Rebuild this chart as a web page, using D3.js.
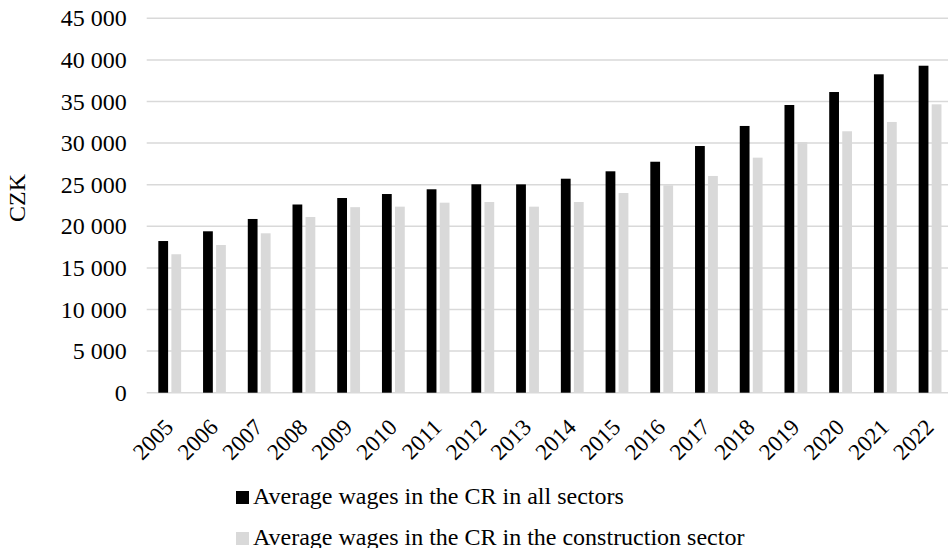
<!DOCTYPE html>
<html>
<head>
<meta charset="utf-8">
<script src="https://cdn.jsdelivr.net/npm/d3@7"></script>
<style>
  body { margin: 0; background: #fff; }
  svg text { font-family: "Liberation Serif", "Times New Roman", serif; fill: #000; }
</style>
</head>
<body>
<div id="chart"></div>
<script>
const years = ["2005", "2006", "2007", "2008", "2009", "2010", "2011", "2012", "2013",
               "2014", "2015", "2016", "2017", "2018", "2019", "2020", "2021", "2022"];
const allSectors = [18230, 19400, 20880, 22620, 23400, 23880, 24450, 25050, 25040,
                    25720, 26610, 27760, 29650, 32060, 34580, 36140, 38270, 39300];
const construction = [16640, 17750, 19160, 21120, 22300, 22360, 22840, 22920, 22360,
                      22920, 24000, 24930, 26050, 28250, 30130, 31420, 32540, 34660];
const seriesNames = ["Average wages in the CR in all sectors",
                     "Average wages in the CR in the construction sector"];
const seriesColors = ["#000000", "#d9d9d9"];
const yTicks = [0, 5000, 10000, 15000, 20000, 25000, 30000, 35000, 40000, 45000];

const width = 948, height = 548;
const plotLeft = 146.7, plotRight = 953.1, plotTop = 18.3, plotBottom = 392.7;
const fontSize = 24, yearFontSize = 23;

const svg = d3.select("#chart").append("svg")
  .attr("width", width)
  .attr("height", height);

const x0 = d3.scaleBand().domain(years).range([plotLeft, plotRight])
  .paddingInner(0.49).paddingOuter(0.26);
const x1 = d3.scaleBand().domain([0, 1]).range([0, x0.bandwidth()]).paddingInner(0.25);
const y = d3.scaleLinear().domain([0, 45000]).range([plotBottom, plotTop]);

const fmt = v => d3.format(",")(v).replace(/,/g, " ");

// gridlines
svg.append("g")
  .selectAll("line")
  .data(yTicks)
  .join("line")
  .attr("x1", plotLeft).attr("x2", width)
  .attr("y1", d => y(d)).attr("y2", d => y(d))
  .attr("stroke", "#d9d9d9")
  .attr("stroke-width", 1.5);

// y axis labels
const yAxis = svg.append("g")
  .attr("transform", `translate(${plotLeft},0)`)
  .call(d3.axisLeft(y).tickValues(yTicks).tickSize(0).tickPadding(20).tickFormat(fmt));
yAxis.select(".domain").remove();
yAxis.selectAll("text")
  .attr("font-size", fontSize)
  .attr("font-family", "Liberation Serif");

// bars
const data = years.map((yr, i) => ({ year: yr, values: [allSectors[i], construction[i]] }));
svg.append("g")
  .selectAll("g")
  .data(data)
  .join("g")
  .attr("transform", d => `translate(${x0(d.year)},0)`)
  .selectAll("rect")
  .data(d => d.values.map((v, k) => ({ k, v })))
  .join("rect")
  .attr("x", d => x1(d.k))
  .attr("width", x1.bandwidth())
  .attr("y", d => y(d.v))
  .attr("height", d => y(0) - y(d.v))
  .attr("fill", d => seriesColors[d.k]);

// x axis labels
svg.append("g")
  .selectAll("text")
  .data(years)
  .join("text")
  .attr("transform", d => `translate(${x0(d) + x0.bandwidth() / 2 + 5},${plotBottom + 36}) rotate(-45)`)
  .attr("text-anchor", "end")
  .attr("font-size", yearFontSize)
  .text(d => d);

// y title
svg.append("text")
  .attr("transform", `translate(24.5,198) rotate(-90)`)
  .attr("text-anchor", "middle")
  .attr("font-size", fontSize)
  .text("CZK");

// legend
const legend = svg.append("g")
  .selectAll("g")
  .data(seriesNames)
  .join("g")
  .attr("transform", (d, i) => `translate(236,${491 + i * 41})`);
legend.append("rect")
  .attr("width", 13).attr("height", 13)
  .attr("fill", (d, i) => seriesColors[i]);
legend.append("text")
  .attr("x", 17).attr("y", 12.5)
  .attr("font-size", fontSize)
  .text(d => d);
</script>
</body>
</html>
